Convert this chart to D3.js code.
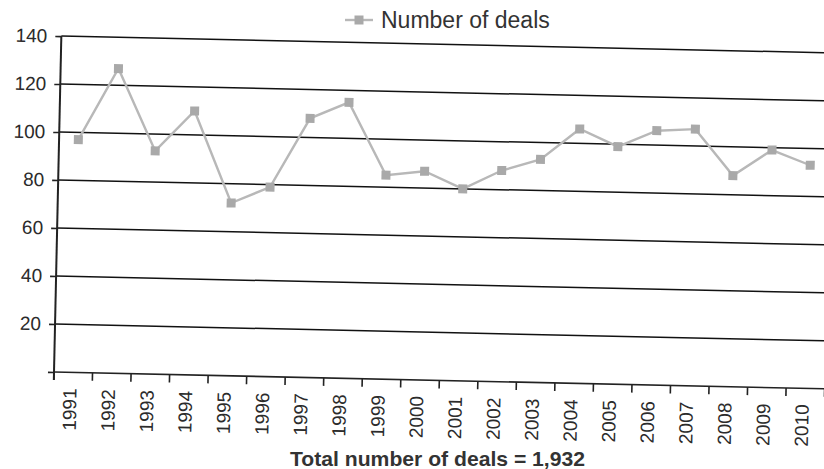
<!DOCTYPE html>
<html>
<head>
<meta charset="utf-8">
<script src="https://cdn.jsdelivr.net/npm/d3@7"></script>
<style>
  html, body { margin: 0; padding: 0; background: #fff; }
  svg { display: block; }
  text { font-family: "Liberation Sans", Arial, Helvetica, sans-serif; }
</style>
</head>
<body>
<svg id="chart" width="824" height="469"></svg>
<script>
// Annual deal counts, 1991–2010
const years = ["1991","1992","1993","1994","1995","1996","1997","1998","1999","2000",
               "2001","2002","2003","2004","2005","2006","2007","2008","2009","2010"];
const deals = [97,127,93,110,72,79,108,115,85,87,80,88,93,106,99,106,107,88,99,93];
const yTicks = [0,20,40,60,80,100,120,140];
const seriesName = "Number of deals";
const totalLabel = "Total number of deals = 1,932";

const svg = d3.select("#chart");
const plotLeft = 54, plotBottom = 372, plotTop = 36, plotRight = 824.8;

const x = d3.scaleBand().domain(years).range([plotLeft, plotRight]).padding(0);
const y = d3.scaleLinear().domain([0, 140]).range([plotBottom, plotTop]);

// the printed page sits slightly askew
const plot = svg.append("g").attr("transform", `rotate(1.25, ${plotLeft}, ${plotBottom})`);

// horizontal gridlines
plot.append("g").selectAll("line")
  .data(yTicks.filter(v => v > 0))
  .join("line")
  .attr("x1", plotLeft).attr("x2", 850)
  .attr("y1", d => y(d)).attr("y2", d => y(d))
  .attr("stroke", "#111").attr("stroke-width", 1.5);

// x axis (category ticks between bands)
plot.append("line")
  .attr("x1", plotLeft).attr("x2", 850).attr("y1", plotBottom).attr("y2", plotBottom)
  .attr("stroke", "#222").attr("stroke-width", 1.6);
const bounds = years.map(d => x(d)).concat([x(years[years.length - 1]) + x.bandwidth()]);
plot.append("g").selectAll("line")
  .data(bounds)
  .join("line")
  .attr("x1", d => d).attr("x2", d => d)
  .attr("y1", plotBottom).attr("y2", plotBottom + 8)
  .attr("stroke", "#222").attr("stroke-width", 1.6);
plot.append("g").selectAll("text")
  .data(years)
  .join("text")
  .attr("transform", d => `translate(${x(d) + x.bandwidth() / 2 - 3},${plotBottom + 16}) rotate(-90)`)
  .attr("text-anchor", "end")
  .attr("dy", "0.35em")
  .attr("font-size", 19)
  .attr("fill", "#2b2b2b")
  .text(d => d);

// y axis
const yAxis = d3.axisLeft(y).tickValues(yTicks).tickSize(6).tickPadding(8)
  .tickFormat(d => d === 0 ? "" : d);
const yg = plot.append("g").attr("transform", `translate(${plotLeft},0)`).call(yAxis);
yg.select(".domain").remove();
yg.selectAll(".tick line").attr("stroke", "#222").attr("stroke-width", 1.6);
yg.selectAll(".tick text")
  .attr("font-size", 19)
  .attr("fill", "#2b2b2b")
  .attr("font-family", "Liberation Sans, Arial, sans-serif");
plot.append("line")
  .attr("x1", plotLeft).attr("x2", plotLeft)
  .attr("y1", y(140)).attr("y2", plotBottom + 8)
  .attr("stroke", "#222").attr("stroke-width", 2);

// series
const cx = d => x(d) + x.bandwidth() / 2;
const line = d3.line().x((d, i) => cx(years[i])).y(d => y(d));
plot.append("path")
  .datum(deals)
  .attr("d", line)
  .attr("fill", "none")
  .attr("stroke", "#b8b8b8")
  .attr("stroke-width", 2.4);
plot.append("g").selectAll("rect")
  .data(deals)
  .join("rect")
  .attr("x", (d, i) => cx(years[i]) - 4.5)
  .attr("y", d => y(d) - 4.5)
  .attr("width", 9).attr("height", 9)
  .attr("fill", "#a9a9a9");

// legend
const lg = svg.append("g").attr("transform", "translate(345,20)");
lg.append("line").attr("x1", 0).attr("x2", 28).attr("y1", 0).attr("y2", 0)
  .attr("stroke", "#b8b8b8").attr("stroke-width", 2.4);
lg.append("rect").attr("x", 9.5).attr("y", -4.5).attr("width", 9).attr("height", 9)
  .attr("fill", "#a9a9a9");
lg.append("text").attr("x", 36).attr("y", 7.5)
  .attr("font-size", 23).attr("fill", "#333")
  .text(seriesName);

// total caption
svg.append("text")
  .attr("x", 437.5).attr("y", 466)
  .attr("text-anchor", "middle")
  .attr("font-size", 21).attr("font-weight", "bold")
  .attr("fill", "#333")
  .attr("textLength", 295).attr("lengthAdjust", "spacingAndGlyphs")
  .text(totalLabel);
</script>
</body>
</html>
